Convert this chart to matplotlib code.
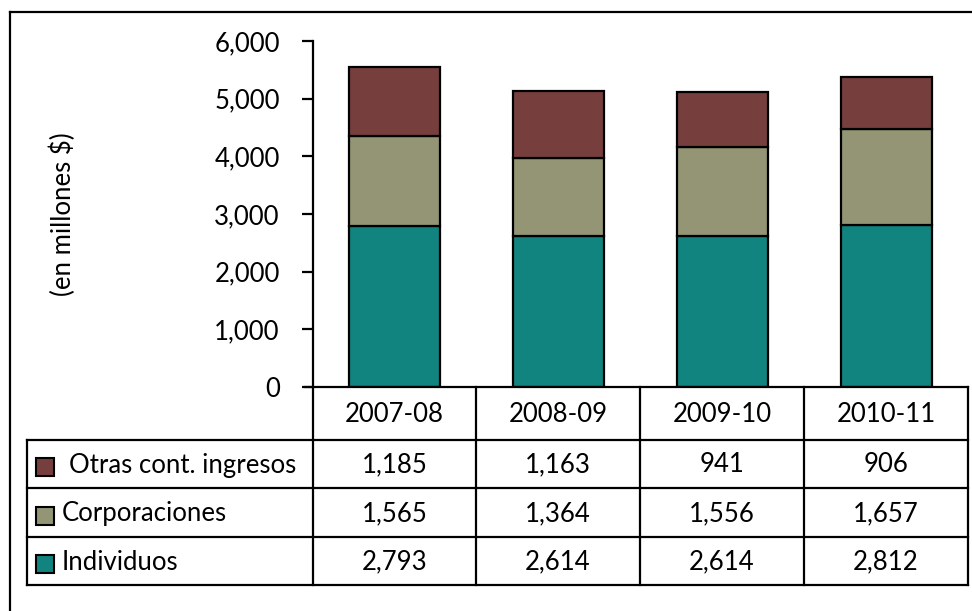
import matplotlib.pyplot as plt
import matplotlib.patches as mpatches
from matplotlib.lines import Line2D
import numpy as np

years = ['2007-08', '2008-09', '2009-10', '2010-11']
individuos = [2793, 2614, 2614, 2812]
corporaciones = [1565, 1364, 1556, 1657]
otras = [1185, 1163, 941, 906]
row_names = ['Otras cont. ingresos', 'Corporaciones', 'Individuos']
c_ind, c_corp, c_otras = '#128480', '#949574', '#773e3e'

plt.rcParams['font.family'] = ['Lato', 'DejaVu Sans']
FS = 18.5

W, H = 972, 611
fig = plt.figure(figsize=(W / 100, H / 100), dpi=100)


def px(x):
    return x / W


def py(y):
    return 1 - y / H


def hline(y, x0, x1):
    fig.add_artist(Line2D([px(x0), px(x1)], [py(y), py(y)], color='black', lw=1.6,
                          solid_capstyle='projecting'))


def vline(x, y0, y1):
    fig.add_artist(Line2D([px(x), px(x)], [py(y0), py(y1)], color='black', lw=1.6,
                          solid_capstyle='projecting'))


# outer frame (clipped at right/bottom like the original)
hline(12, 10, 975)
vline(10, 12, 615)

# chart area
ax = fig.add_axes([px(313), py(387), px(968) - px(313), py(41) - py(387)])
x = np.arange(len(years))
ind = np.array(individuos)
corp = np.array(corporaciones)
ot = np.array(otras)
bw = 0.555
ax.bar(x, ind, bw, color=c_ind, ec='black', lw=1.6)
ax.bar(x, corp, bw, bottom=ind, color=c_corp, ec='black', lw=1.6)
ax.bar(x, ot, bw, bottom=ind + corp, color=c_otras, ec='black', lw=1.6)

ax.set_xlim(-0.5, len(years) - 0.5)
ax.set_ylim(0, 6000)
ax.set_yticks(range(0, 6001, 1000))
ax.set_yticklabels([f'{v:,}' for v in range(0, 6001, 1000)], fontsize=FS)
ax.tick_params(axis='y', length=8, width=1.6, direction='out', pad=16)
ax.set_xticks([])
for s in ['top', 'right', 'bottom']:
    ax.spines[s].set_visible(False)
ax.spines['left'].set_linewidth(1.6)
ax.patch.set_visible(False)
fig.text(px(63), py(214), '(en millones $)', rotation=90, ha='center', va='center',
         fontsize=FS)

# data table below the chart
col_edges = [313, 476, 640, 804, 968]
row_edges = [387, 440, 488, 537, 585]
label_left = 27

hline(row_edges[0], col_edges[0] - 8, col_edges[-1])
for y in row_edges[1:]:
    hline(y, label_left, col_edges[-1])
for xe in col_edges:
    vline(xe, row_edges[0], row_edges[-1])
vline(label_left, row_edges[1], row_edges[-1])

for j, yr in enumerate(years):
    xc = (col_edges[j] + col_edges[j + 1]) / 2
    yc = (row_edges[0] + row_edges[1]) / 2
    fig.text(px(xc), py(yc + 1), yr, ha='center', va='center', fontsize=FS)

table_rows = [otras, corporaciones, individuos]
swatches = [c_otras, c_corp, c_ind]
label_x = [69, 62, 62]
for i, (name, vals, col) in enumerate(zip(row_names, table_rows, swatches)):
    yc = (row_edges[i + 1] + row_edges[i + 2]) / 2
    fig.patches.append(mpatches.Rectangle((px(36), py(yc + 12)), 18 / W, 18 / H,
                                          transform=fig.transFigure, fc=col,
                                          ec='black', lw=1.5))
    fig.text(px(label_x[i]), py(yc + 1), name, ha='left', va='center', fontsize=FS)
    for j, v in enumerate(vals):
        xc = (col_edges[j] + col_edges[j + 1]) / 2
        fig.text(px(xc), py(yc + 1), f'{v:,}', ha='center', va='center', fontsize=FS)

fig.savefig('out.png', dpi=100)
